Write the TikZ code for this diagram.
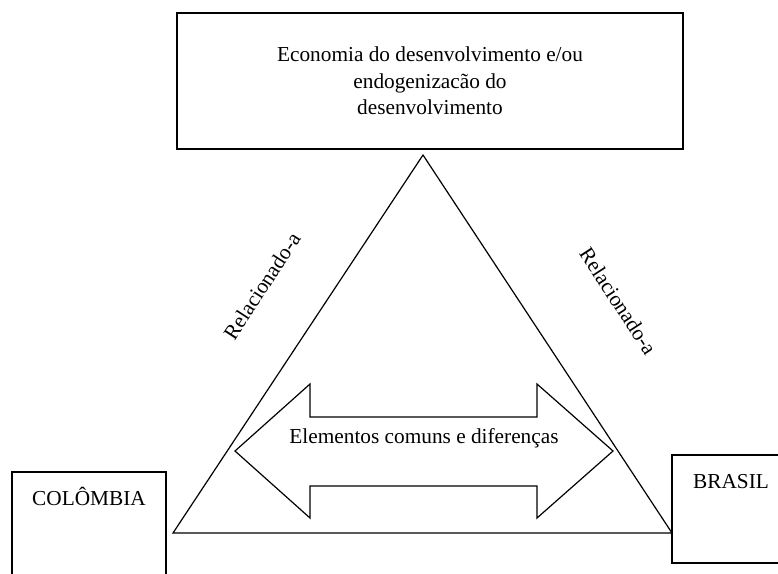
\documentclass[tikz,border=0pt]{standalone}
\usepackage{fontspec}
\setmainfont{Liberation Serif}
\begin{document}
\begin{tikzpicture}[x=1pt,y=-1pt,
  txt/.style={font=\fontsize{21.3}{26.5}\selectfont, inner sep=0pt},
  boxline/.style={draw, line width=1.5pt, inner sep=0pt},
  thinline/.style={line width=1.2pt, line join=miter}]
\clip (0,0) rectangle (778,573);
% top box
\node[boxline, minimum width=506pt, minimum height=136pt, align=center, txt] (topbox) at (430,81)
  {Economia do desenvolvimento e/ou\\endogenizacão do\\desenvolvimento};
% triangle
\coordinate (apex) at (423,155);
\coordinate (bl) at (173,533);
\coordinate (br) at (672,533);
\draw[thinline] (apex) -- (bl) -- (br) -- cycle;
% side labels
\node[txt, anchor=base, rotate=57] (relleft) at (268,290) {Relacionado-a};
\node[txt, anchor=base, rotate=-57] (relright) at (612,305) {Relacionado-a};
% double arrow
\draw[thinline] (235,451) -- (310,384) -- (310,417) -- (537,417) -- (537,384) -- (613,451)
  -- (537,518) -- (537,486) -- (310,486) -- (310,518) -- cycle;
\node[txt, anchor=base] (elem) at (424,443) {Elementos comuns e diferenças};
% Colombia
\node[boxline, minimum width=154pt, minimum height=148pt] (colombia) at (89,546) {};
\node[txt, anchor=base] (colname) at (89,505) {COLÔMBIA};
% Brasil
\node[boxline, minimum width=118pt, minimum height=108pt] (brasil) at (731,509) {};
\node[txt, anchor=base] (brname) at (731,488) {BRASIL};
\end{tikzpicture}
\end{document}
